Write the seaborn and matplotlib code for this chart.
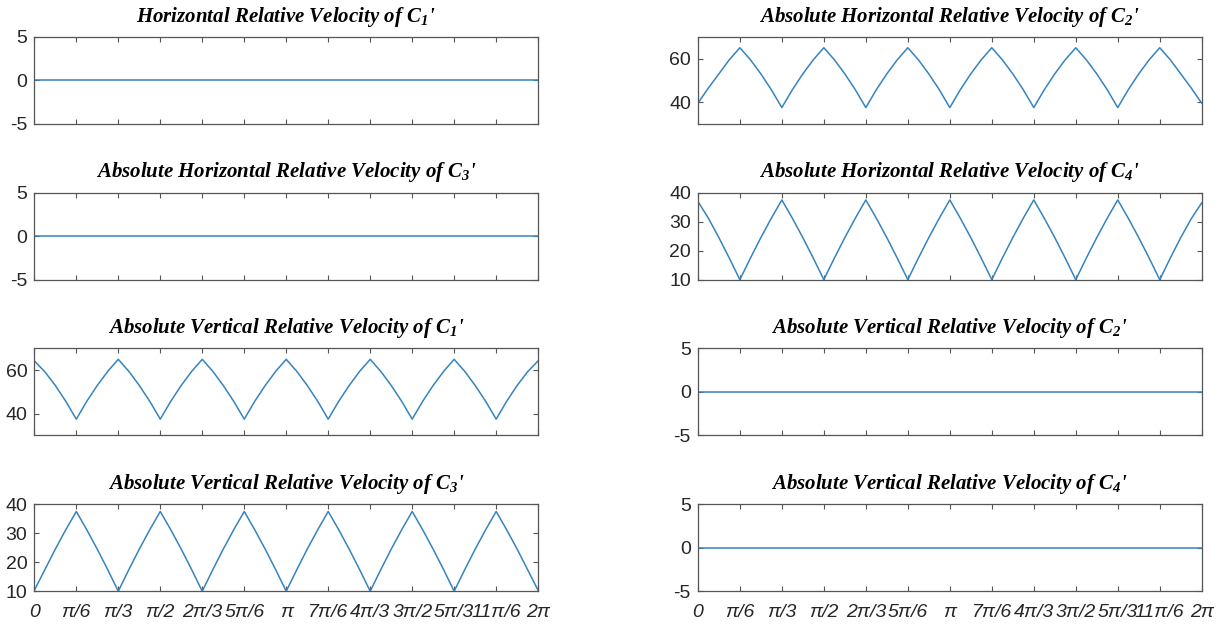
import numpy as np
import pandas as pd
import seaborn as sns
import matplotlib.pyplot as plt

theta = np.linspace(0, 2 * np.pi, 49)

tick_labels = ['0', 'π/6', 'π/3', 'π/2', '2π/3', '5π/6', 'π',
               '7π/6', '4π/3', '3π/2', '5π/3', '11π/6', '2π']

zero_line = [0.0, 0.0, 0.0, 0.0, 0.0, 0.0, 0.0, 0.0,
             0.0, 0.0, 0.0, 0.0, 0.0, 0.0, 0.0, 0.0,
             0.0, 0.0, 0.0, 0.0, 0.0, 0.0, 0.0, 0.0,
             0.0, 0.0, 0.0, 0.0, 0.0, 0.0, 0.0, 0.0,
             0.0, 0.0, 0.0, 0.0, 0.0, 0.0, 0.0, 0.0,
             0.0, 0.0, 0.0, 0.0, 0.0, 0.0, 0.0, 0.0,
             0.0]

abs_h_c2 = [39.5, 46.5, 53.0, 59.5, 65.0, 59.5, 53.0, 45.7,
            37.5, 45.7, 53.0, 59.5, 65.0, 59.5, 53.0, 45.7,
            37.5, 45.7, 53.0, 59.5, 65.0, 59.5, 53.0, 45.7,
            37.5, 45.7, 53.0, 59.5, 65.0, 59.5, 53.0, 45.7,
            37.5, 45.7, 53.0, 59.5, 65.0, 59.5, 53.0, 45.7,
            37.5, 45.7, 53.0, 59.5, 65.0, 59.5, 53.0, 46.5,
            39.5]

abs_h_c4 = [37.0, 31.2, 24.5, 17.4, 10.0, 17.4, 24.5, 31.2,
            37.5, 31.2, 24.5, 17.4, 10.0, 17.4, 24.5, 31.2,
            37.5, 31.2, 24.5, 17.4, 10.0, 17.4, 24.5, 31.2,
            37.5, 31.2, 24.5, 17.4, 10.0, 17.4, 24.5, 31.2,
            37.5, 31.2, 24.5, 17.4, 10.0, 17.4, 24.5, 31.2,
            37.5, 31.2, 24.5, 17.4, 10.0, 17.4, 24.5, 31.0,
            36.5]

abs_v_c1 = [64.3, 59.3, 53.0, 45.7, 37.5, 45.7, 53.0, 59.5,
            65.0, 59.5, 53.0, 45.7, 37.5, 45.7, 53.0, 59.5,
            65.0, 59.5, 53.0, 45.7, 37.5, 45.7, 53.0, 59.5,
            65.0, 59.5, 53.0, 45.7, 37.5, 45.7, 53.0, 59.5,
            65.0, 59.5, 53.0, 45.7, 37.5, 45.7, 53.0, 59.5,
            65.0, 59.5, 53.0, 45.7, 37.5, 45.7, 53.0, 59.3,
            64.3]

abs_v_c3 = [10.3, 17.4, 24.5, 31.2, 37.5, 31.2, 24.5, 17.4,
            10.0, 17.4, 24.5, 31.2, 37.5, 31.2, 24.5, 17.4,
            10.0, 17.4, 24.5, 31.2, 37.5, 31.2, 24.5, 17.4,
            10.0, 17.4, 24.5, 31.2, 37.5, 31.2, 24.5, 17.4,
            10.0, 17.4, 24.5, 31.2, 37.5, 31.2, 24.5, 17.4,
            10.0, 17.4, 24.5, 31.2, 37.5, 31.2, 24.5, 17.4,
            10.3]

titles = ["Horizontal Relative Velocity of C$_{1}$'",
          "Absolute Horizontal Relative Velocity of C$_{2}$'",
          "Absolute Horizontal Relative Velocity of C$_{3}$'",
          "Absolute Horizontal Relative Velocity of C$_{4}$'",
          "Absolute Vertical Relative Velocity of C$_{1}$'",
          "Absolute Vertical Relative Velocity of C$_{2}$'",
          "Absolute Vertical Relative Velocity of C$_{3}$'",
          "Absolute Vertical Relative Velocity of C$_{4}$'"]

series = [zero_line, abs_h_c2, zero_line, abs_h_c4,
          abs_v_c1, zero_line, abs_v_c3, zero_line]

ylims = [(-5, 5), (30, 70), (-5, 5), (10, 40),
         (30, 70), (-5, 5), (10, 40), (-5, 5)]
yticks = [[-5, 0, 5], [40, 60], [-5, 0, 5], [10, 20, 30, 40],
          [40, 60], [-5, 0, 5], [10, 20, 30, 40], [-5, 0, 5]]

# ---------------- style ----------------
sns.set_style("ticks")
plt.rcParams['font.family'] = ['Liberation Sans', 'DejaVu Sans']
plt.rcParams['axes.unicode_minus'] = False
plt.rcParams['mathtext.fontset'] = 'custom'
plt.rcParams['mathtext.rm'] = 'Liberation Serif:bold:italic'
plt.rcParams['mathtext.it'] = 'Liberation Serif:bold:italic'
plt.rcParams['mathtext.bf'] = 'Liberation Serif:bold:italic'

line_color = '#3584BE'
axis_color = '#555555'
text_color = '#262626'

fig, axes = plt.subplots(4, 2, figsize=(12.25, 6.25), dpi=100)
plt.subplots_adjust(left=0.028, right=0.981, top=0.941, bottom=0.054,
                    wspace=0.317, hspace=0.79)

for i, ax in enumerate(axes.flat):
    df = pd.DataFrame({'theta': theta, 'v': series[i]})
    sns.lineplot(data=df, x='theta', y='v', ax=ax, color=line_color,
                 linewidth=1.1)
    ax.set_xlim(0, 2 * np.pi)
    ax.set_ylim(*ylims[i])
    ax.set_yticks(yticks[i])
    ax.set_xticks(np.arange(13) * np.pi / 6)
    ax.set_xlabel('')
    ax.set_ylabel('')
    for s in ax.spines.values():
        s.set_visible(True)
        s.set_color(axis_color)
        s.set_linewidth(0.9)
    ax.tick_params(direction='in', length=3.5, width=0.8, color=axis_color,
                   top=True, right=True, labelsize=14, labelcolor=text_color)
    ax.tick_params(axis='y', pad=5)
    ax.tick_params(axis='x', pad=9.5)
    if i >= 6:
        ax.set_xticklabels(tick_labels, fontstyle='italic')
    else:
        ax.set_xticklabels([])
    ax.set_title(titles[i], fontfamily='Liberation Serif', fontweight='bold',
                 fontstyle='italic', fontsize=15, color='black', pad=11)

plt.savefig("out.png")
plt.close()
